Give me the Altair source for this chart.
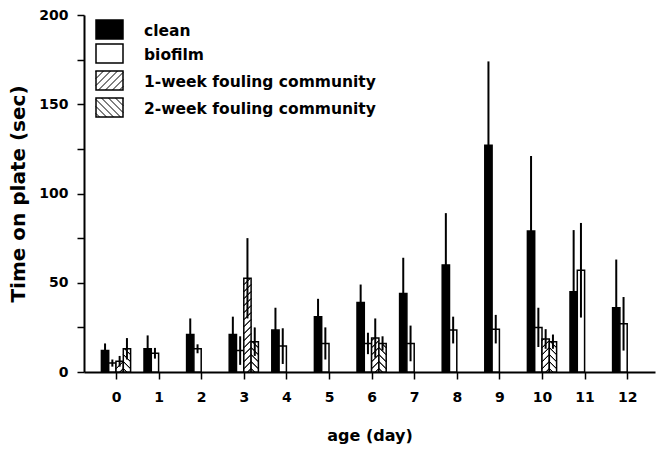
import altair as alt
import pandas as pd

# ---------------- data ----------------
days = list(range(13))
series_names = ["clean", "biofilm", "1-week fouling community", "2-week fouling community"]

clean_mean = [12, 13, 21, 21, 23.5, 31, 39, 44, 60, 127, 79, 45, 36]
clean_err = [4, 7.5, 9, 10, 12.5, 10, 10, 20, 29, 47, 42, 34.5, 27]

biofilm_mean = [5, 10.5, 13, 12, 14.5, 16, 16, 16, 23.5, 24, 25, 57, 27]
biofilm_err = [2, 3, 2.5, 8, 10, 9, 6, 10, 7.5, 8, 11, 26.5, 15]

week1_days = [0, 3, 6, 10]
week1_mean = [6, 52.5, 19, 18.5]
week1_err = [3, 22.5, 11, 5.5]

week2_days = [0, 3, 6, 10]
week2_mean = [13, 17, 16, 17]
week2_err = [6, 8, 4, 4]

x_ticks = days
y_ticks = [0, 25, 50, 75, 100, 125, 150, 175, 200]

# ---------------- layout constants ----------------
FONT = "DejaVu Sans"
PLOT_W, PLOT_H = 571, 357
PAD_L, PAD_T = 84, 15
KX = 42.6                      # px per day
X_MIN = -32 / KX
X_MAX = X_MIN + PLOT_W / KX
KY = PLOT_H / 200              # px per second
SLOT_PX = 7.3
SLOT = SLOT_PX / KX
HATCH_STEP = 7

def px_x(px):
    return X_MIN + px / KX

def px_y(py):
    return 200 - py / KY

def hatch_segments(x0, base, w_px, h_px, direction):
    segs = []
    if direction == "/":
        c = -w_px + HATCH_STEP / 2
        while c < h_px:
            u0, u1 = max(0, -c), min(w_px, h_px - c)
            if u1 > u0:
                segs.append((x0 + u0 / KX, base + (u0 + c) / KY, x0 + u1 / KX, base + (u1 + c) / KY))
            c += HATCH_STEP
    else:
        c = HATCH_STEP / 2
        while c < w_px + h_px:
            u0, u1 = max(0, c - h_px), min(w_px, c)
            if u1 > u0:
                segs.append((x0 + u0 / KX, base + (c - u0) / KY, x0 + u1 / KX, base + (c - u1) / KY))
            c += HATCH_STEP
    return segs

# ---------------- build tables ----------------
rows = []
groups = [
    (series_names[0], days, clean_mean, clean_err),
    (series_names[1], days, biofilm_mean, biofilm_err),
    (series_names[2], week1_days, week1_mean, week1_err),
    (series_names[3], week2_days, week2_mean, week2_err),
]
for slot, (name, dd, mm, ee) in enumerate(groups):
    for d, m, e in zip(dd, mm, ee):
        x0 = d + (slot - 2) * SLOT
        rows.append(dict(series=name, day=d, mean=m, x0=x0, x1=x0 + SLOT,
                         xc=x0 + SLOT / 2, lo=max(0, m - e), hi=m + e))
df = pd.DataFrame(rows)

hatch_rows = []
for _, r in df.iterrows():
    if r["series"] == series_names[2]:
        hatch_rows += hatch_segments(r["x0"], 0, SLOT_PX, r["mean"] * KY, "/")
    elif r["series"] == series_names[3]:
        hatch_rows += hatch_segments(r["x0"], 0, SLOT_PX, r["mean"] * KY, "\\")

# legend (positions in px relative to plot area, converted to data units)
leg_rows_px = [(5, 24), (29, 48), (56, 75), (83, 102)]
leg_x0_px, leg_x1_px = 12, 39
leg = []
for i, (name, (t, b)) in enumerate(zip(series_names, leg_rows_px)):
    leg.append(dict(series=name, x0=px_x(leg_x0_px), x1=px_x(leg_x1_px),
                    ytop=px_y(t), ybot=px_y(b), tx=px_x(60), ty=px_y((t + b) / 2 + 1)))
    if i == 2:
        hatch_rows += hatch_segments(px_x(leg_x0_px), px_y(b), leg_x1_px - leg_x0_px, b - t, "/")
    if i == 3:
        hatch_rows += hatch_segments(px_x(leg_x0_px), px_y(b), leg_x1_px - leg_x0_px, b - t, "\\")
leg_df = pd.DataFrame(leg)
hatch_df = pd.DataFrame(hatch_rows, columns=["hx", "hy", "hx2", "hy2"])

# ---------------- chart ----------------
xscale = alt.Scale(domain=[X_MIN, X_MAX], nice=False, zero=False)
yscale = alt.Scale(domain=[0, 200], nice=False)

xaxis = alt.Axis(values=x_ticks, title="age (day)", grid=False, tickSize=7, tickWidth=1.5,
                 tickColor="black", domainColor="black", domainWidth=2,
                 labelFont=FONT, labelFontWeight="bold", labelFontSize=14, labelColor="black",
                 labelPadding=11, titleFont=FONT, titleFontWeight="bold", titleFontSize=16,
                 titleColor="black", titlePadding=23)
yaxis = alt.Axis(values=y_ticks, title="Time on plate (sec)", grid=False, tickSize=7, tickWidth=1.5,
                 tickColor="black", domainColor="black", domainWidth=2,
                 labelExpr="datum.value % 50 == 0 ? datum.label : ''",
                 labelFont=FONT, labelFontWeight="bold", labelFontSize=14, labelColor="black",
                 labelPadding=9, titleFont=FONT, titleFontWeight="bold", titleFontSize=20,
                 titleColor="black", titlePadding=10)

fill_scale = alt.Scale(domain=series_names, range=["black", "white", "white", "white"])

bars = alt.Chart(df).mark_bar(stroke="black", strokeWidth=1.5).encode(
    x=alt.X("x0:Q", scale=xscale, axis=xaxis),
    x2="x1:Q",
    y=alt.Y("mean:Q", scale=yscale, axis=yaxis),
    y2=alt.datum(0),
    fill=alt.Fill("series:N", scale=fill_scale, legend=None),
)

hatch = alt.Chart(hatch_df).mark_rule(color="black", strokeWidth=1).encode(
    x="hx:Q", y="hy:Q", x2="hx2:Q", y2="hy2:Q"
)

errs = alt.Chart(df).mark_rule(color="black", strokeWidth=2).encode(
    x="xc:Q", y="lo:Q", y2="hi:Q"
)

leg_rect = alt.Chart(leg_df).mark_rect(stroke="black", strokeWidth=1.5).encode(
    x="x0:Q", x2="x1:Q", y="ybot:Q", y2="ytop:Q",
    fill=alt.Fill("series:N", scale=fill_scale, legend=None),
)
leg_text = alt.Chart(leg_df).mark_text(align="left", baseline="middle", font=FONT,
                                       fontWeight="bold", fontSize=15.5, color="black").encode(
    x="tx:Q", y="ty:Q", text="series:N"
)

chart = alt.layer(bars, hatch, errs, leg_rect, hatch, leg_text).properties(
    width=PLOT_W, height=PLOT_H,
    autosize=alt.AutoSizeParams(type="none"),
    padding={"left": PAD_L, "top": PAD_T, "right": 659 - PAD_L - PLOT_W, "bottom": 449 - PAD_T - PLOT_H},
    background="white",
).configure_view(stroke=None)

chart.save("out.html", embed_options={"renderer": "svg", "actions": False})
